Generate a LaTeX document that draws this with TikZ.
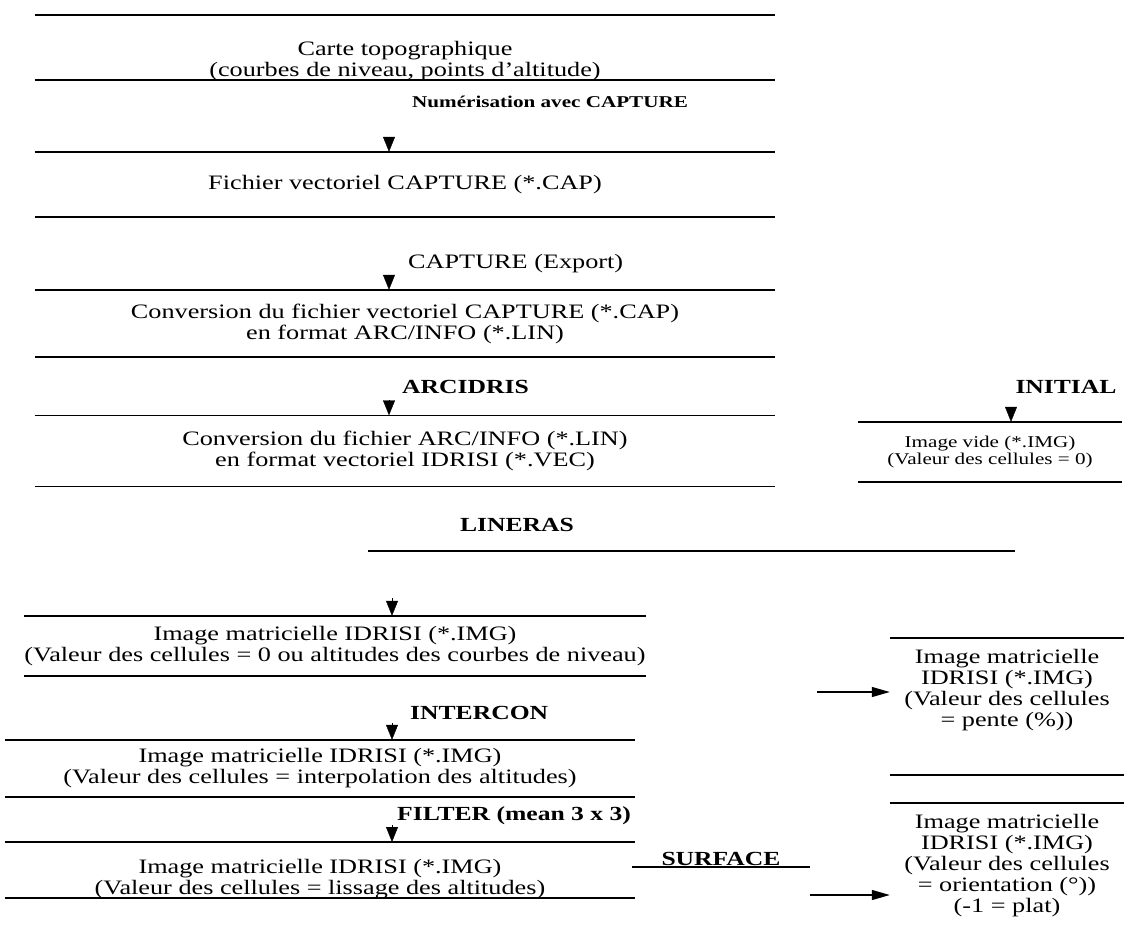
\documentclass[tikz,border=0pt]{standalone}
\usepackage{fontspec}
\setmainfont{Liberation Serif}[FakeStretch=1.28]
\usetikzlibrary{arrows.meta,positioning}

\begin{document}
\begin{tikzpicture}[
    x=1pt, y=-1pt,
    rule/.style={line width=1.5pt},
    txt/.style={inner sep=0pt, align=center, font=\fontsize{20.5}{21}\selectfont},
    note/.style={inner sep=0pt, align=center, font=\fontsize{16.5}{17}\selectfont},
    tool/.style={inner sep=0pt, font=\fontsize{20}{22}\selectfont\bfseries},
    smalltool/.style={inner sep=0pt, font=\fontsize{16.5}{17}\selectfont\bfseries},
    ruled/.style={append after command={
        (\tikzlastnode.north west) edge[rule] (\tikzlastnode.north east)
        (\tikzlastnode.south west) edge[rule] (\tikzlastnode.south east)}},
    ruletop/.style={append after command={
        (\tikzlastnode.north west) edge[rule] (\tikzlastnode.north east)}},
    rulebot/.style={append after command={
        (\tikzlastnode.south west) edge[rule] (\tikzlastnode.south east)}},
    head/.style={-{Triangle[width=12pt,length=15pt]}, line width=0.4pt},
    arrow/.style={-{Triangle[width=10pt,length=18pt]}, line width=1.3pt}
]
    \useasboundingbox (0,0) rectangle (1124,940);

    % left column, top part
    \draw[rule] (35,15) -- (775,15);
    \node[txt, rulebot, minimum width=740pt, inner ysep=-1.5pt, anchor=south] (carte) at (405,80)
        {Carte topographique\\(courbes de niveau, points d'altitude)};
    \node[smalltool, anchor=west] (numer) at (412,102) {Numérisation avec CAPTURE};
    \node[txt, ruled, minimum width=740pt, minimum height=65pt] (fichier) at (405,184.5)
        {Fichier vectoriel CAPTURE (*.CAP)};
    \node[txt, anchor=west] (export) at (408,264) {CAPTURE (Export)};
    \node[txt, ruled, minimum width=740pt, minimum height=67pt] (convcap) at (405,323.5)
        {Conversion du fichier vectoriel CAPTURE (*.CAP)\\en format ARC/INFO (*.LIN)};
    \node[tool, anchor=west] (arcidris) at (402,387) {ARCIDRIS};
    \node[txt, ruled, minimum width=740pt, minimum height=71pt] (convlin) at (405,451)
        {Conversion du fichier ARC/INFO (*.LIN)\\en format vectoriel IDRISI (*.VEC)};

    \coordinate (h1) at (389,137);
    \coordinate (h2) at (389,275);
    \coordinate (h3) at (389,400);
    \draw[head] (h1) -- (h1 |- fichier.north);
    \draw[head] (h2) -- (h2 |- convcap.north);
    \draw[head] (h3) -- (h3 |- convlin.north);

    % empty image
    \node[tool] (initial) at (1066,387) {INITIAL};
    \node[note, ruled, minimum width=264pt, minimum height=60pt] (vide) at (990,452)
        {Image vide (*.IMG)\\(Valeur des cellules = 0)};
    \coordinate (h4) at (1011,407);
    \draw[head] (h4) -- (h4 |- vide.north);

    % rasterisation
    \node[tool] (lineras) at (517,525) {LINERAS};
    \draw[rule] (368,551) -- (1015,551);

    % left column, bottom part
    \node[txt, ruled, minimum width=600pt, minimum height=60pt] (matniv) at (335,646)
        {Image matricielle IDRISI (*.IMG)\\(Valeur des cellules = 0 ou altitudes des courbes de niveau)};
    \node[tool, anchor=west] (intercon) at (410,713) {INTERCON};
    \node[txt, ruled, minimum width=630pt, minimum height=57pt] (matint) at (320,768.5)
        {Image matricielle IDRISI (*.IMG)\\(Valeur des cellules = interpolation des altitudes)};
    \node[tool, anchor=west] (filter) at (397,816) {FILTER (mean 3 x 3)};
    \node[txt, rulebot, minimum width=630pt, inner ysep=-1pt, anchor=south] (matlis) at (320,898)
        {Image matricielle IDRISI (*.IMG)\\(Valeur des cellules = lissage des altitudes)};
    \draw[rule] (matlis.west |- 0,842) -- (matlis.east |- 0,842);

    \coordinate (h5) at (392,598);
    \coordinate (h6) at (392,723);
    \coordinate (h7) at (392,825);
    \coordinate (lis) at (392,842);
    \draw[head] (h5) -- (h5 |- matniv.north);
    \draw[head] (h6) -- (h6 |- matint.north);
    \draw[head] (h7) -- (lis);

    % slope and aspect
    \node[tool, rulebot, minimum width=177pt, inner ysep=1pt, anchor=south] (surface) at (721,867) {SURFACE};
    \node[txt, ruletop, inner ysep=11pt, minimum width=234pt, anchor=north] (pente) at (1007,638)
        {Image matricielle\\IDRISI (*.IMG)\\(Valeur des cellules\\= pente (\%))};
    \draw[rule] (pente.west |- 0,775) -- (pente.east |- 0,775);
    \node[txt, ruletop, inner ysep=11pt, minimum width=234pt, anchor=north] (orient) at (1007,803)
        {Image matricielle\\IDRISI (*.IMG)\\(Valeur des cellules\\= orientation (°))\\(-1 = plat)};

    \coordinate (s1) at (817,692);
    \coordinate (s2) at (810,895);
    \draw[arrow] (s1) -- (s1 -| pente.west);
    \draw[arrow] (s2) -- (s2 -| orient.west);
\end{tikzpicture}
\end{document}
